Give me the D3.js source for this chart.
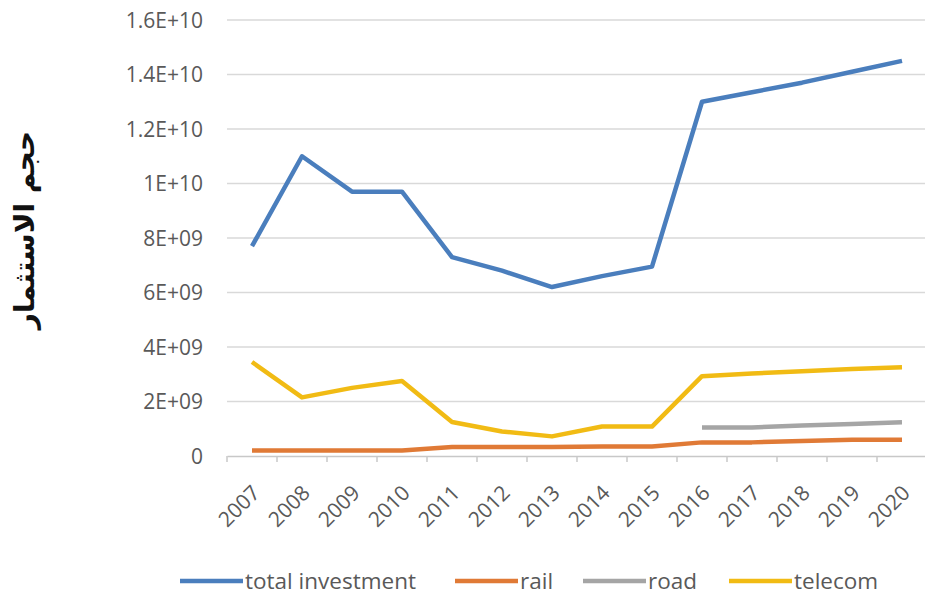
<!DOCTYPE html>
<html>
<head>
<meta charset="utf-8">
<script src="https://cdn.jsdelivr.net/npm/d3@7"></script>
<style>
  body { margin: 0; background: #fff; overflow: hidden; }
  svg { display: block; }
</style>
</head>
<body>
<div id="chart"></div>
<script>
// data
var years = ["2007", "2008", "2009", "2010", "2011", "2012", "2013", "2014", "2015", "2016", "2017", "2018", "2019", "2020"];
var totalInvestment = [7.7e9, 11.0e9, 9.7e9, 9.7e9, 7.3e9, 6.8e9, 6.2e9, 6.6e9, 6.95e9, 13.0e9, 13.35e9, 13.7e9, 14.1e9, 14.5e9];
var rail = [0.2e9, 0.2e9, 0.2e9, 0.2e9, 0.33e9, 0.33e9, 0.33e9, 0.35e9, 0.35e9, 0.5e9, 0.5e9, 0.55e9, 0.6e9, 0.6e9];
var road = [null, null, null, null, null, null, null, null, null, 1.05e9, 1.05e9, 1.12e9, 1.17e9, 1.24e9];
var telecom = [3.45e9, 2.15e9, 2.5e9, 2.75e9, 1.25e9, 0.9e9, 0.72e9, 1.08e9, 1.08e9, 2.93e9, 3.03e9, 3.11e9, 3.19e9, 3.26e9];
var yTicks = [0, 2e9, 4e9, 6e9, 8e9, 1e10, 1.2e10, 1.4e10, 1.6e10];
var yTickLabels = ["0", "2E+09", "4E+09", "6E+09", "8E+09", "1E+10", "1.2E+10", "1.4E+10", "1.6E+10"];
var seriesNames = ["total investment", "rail", "road", "telecom"];
var yTitle = "حجم الاستثمار";

var colors = ["#4a7ebd", "#e07a36", "#a5a5a5", "#f1bb14"];
var allSeries = [totalInvestment, rail, road, telecom];

var width = 925, height = 599;
var margin = { top: 20, right: -2, bottom: 143, left: 227 };

var svg = d3.select("#chart").append("svg")
  .attr("width", width)
  .attr("height", height);

var x = d3.scaleBand()
  .domain(years)
  .range([margin.left, width - margin.right]);

var y = d3.scaleLinear()
  .domain([0, 1.6e10])
  .range([height - margin.bottom, margin.top]);

var font = "'Open Sans', sans-serif";

// gridlines
svg.append("g")
  .selectAll("line")
  .data(yTicks.slice(1))
  .enter().append("line")
  .attr("x1", margin.left)
  .attr("x2", width)
  .attr("y1", function (d) { return y(d); })
  .attr("y2", function (d) { return y(d); })
  .attr("stroke", "#d9d9d9")
  .attr("stroke-width", 1.5);

// y axis labels
var yAxis = d3.axisLeft(y)
  .tickValues(yTicks)
  .tickSize(0)
  .tickPadding(0)
  .tickFormat(function (d, i) { return yTickLabels[i]; });

var yg = svg.append("g")
  .attr("transform", "translate(203,0)")
  .call(yAxis);
yg.select(".domain").remove();
yg.selectAll("text")
  .attr("fill", "#595959")
  .attr("dy", "0.35em")
  .style("font-family", font)
  .style("font-size", "21px");

// x axis
var xAxis = d3.axisBottom(x).tickSize(0).tickFormat(function (d) { return d; });
var xg = svg.append("g")
  .attr("transform", "translate(0," + y(0) + ")")
  .call(xAxis);
xg.select(".domain").attr("stroke", "#c8c8c8").attr("stroke-width", 1.5);
xg.selectAll("text")
  .attr("fill", "#595959")
  .attr("text-anchor", "end")
  .attr("transform", "translate(4,33) rotate(-45)")
  .attr("dy", "0.35em")
  .attr("y", 0)
  .style("font-family", font)
  .style("font-size", "21px");

// tick marks at the category boundaries
svg.append("g")
  .selectAll("line")
  .data(years)
  .enter().append("line")
  .attr("x1", function (d) { return x(d); })
  .attr("x2", function (d) { return x(d); })
  .attr("y1", y(0))
  .attr("y2", y(0) + 6)
  .attr("stroke", "#c8c8c8")
  .attr("stroke-width", 1.5);

// lines
var line = d3.line()
  .defined(function (d) { return d != null; })
  .x(function (d, i) { return x(years[i]) + x.bandwidth() / 2; })
  .y(function (d) { return y(d); });

svg.append("g")
  .selectAll("path")
  .data(allSeries)
  .enter().append("path")
  .attr("d", line)
  .attr("fill", "none")
  .attr("stroke", function (d, i) { return colors[i]; })
  .attr("stroke-width", 4.5)
  .attr("stroke-linejoin", "round");

// y title
svg.append("text")
  .attr("transform", "translate(34,230) rotate(-90)")
  .attr("text-anchor", "middle")
  .attr("fill", "#111")
  .style("font-family", "'DejaVu Sans', sans-serif")
  .style("font-weight", "bold")
  .style("font-size", "28px")
  .text(yTitle);

// legend
var legendX = [180, 455, 583, 729];
var legend = svg.append("g")
  .selectAll("g")
  .data(seriesNames)
  .enter().append("g")
  .attr("transform", function (d, i) { return "translate(" + legendX[i] + ",581)"; });
legend.append("line")
  .attr("x1", 0).attr("x2", 63)
  .attr("stroke", function (d, i) { return colors[i]; })
  .attr("stroke-width", 4.5);
legend.append("text")
  .attr("x", 65)
  .attr("dy", "0.35em")
  .attr("fill", "#595959")
  .style("font-family", font)
  .style("font-size", "22.5px")
  .text(function (d) { return d; });
</script>
</body>
</html>
